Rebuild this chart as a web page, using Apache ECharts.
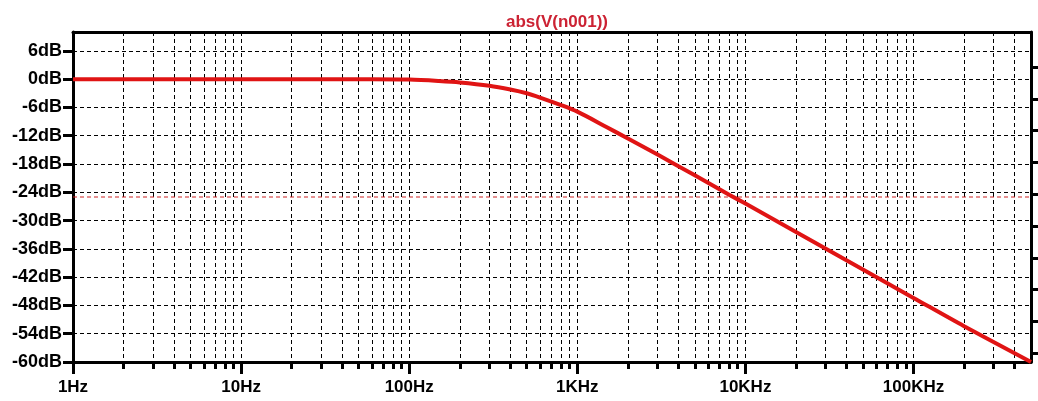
<!DOCTYPE html>
<html>
<head>
<meta charset="utf-8">
<script src="https://cdn.jsdelivr.net/npm/echarts@6/dist/echarts.min.js"></script>
<style>
  html, body { margin: 0; padding: 0; background: #fff; }
  #chart { width: 1038px; height: 401px; }
</style>
</head>
<body>
<div id="chart"></div>
<script>
// values
const freqs = [1, 10, 60, 100, 150, 200, 300, 400, 500, 600, 800, 1000, 1500, 2000, 3000, 5000, 8000, 10000, 20000, 50000, 100000, 200000, 500000]
const gainDb = [0, 0, 0, -0.1, -0.4, -0.7, -1.4, -2.2, -3.0, -3.9, -5.5, -6.9, -10.2, -12.6, -16.0, -20.4, -24.5, -26.4, -32.4, -40.4, -46.4, -52.4, -60.0]
const cursorFreqs = [1, 500000]
const cursorDb = [-25, -25]

// tick labels
const decades = [1, 10, 100, 1000, 10000, 100000]
const decadeLabels = ['1Hz', '10Hz', '100Hz', '1KHz', '10KHz', '100KHz']
const minorSteps = [2, 3, 4, 5, 6, 7, 8, 9]
const yTicks = [-60, -54, -48, -42, -36, -30, -24, -18, -12, -6, 0, 6]
// unlabelled right-hand scale, 0 at the bottom edge
const rightTicks = [62.5, 55.8, 49.1, 42.3, 35.6, 28.9, 22.1, 15.4, 8.6, 1.9]

let allFreqTicks = []
decades.forEach(d => {
  allFreqTicks.push(d)
  minorSteps.forEach(s => { if (d * s < 500000) allFreqTicks.push(d * s) })
})

const seriesData = freqs.map((f, i) => [f, gainDb[i]])
const cursorData = cursorFreqs.map((f, i) => [f, cursorDb[i]])

const chart = echarts.init(document.getElementById('chart'))
chart.setOption({
  animation: false,
  title: {
    text: 'abs(V(n001))',
    left: 552,
    top: 9,
    textAlign: 'center',
    textStyle: { fontFamily: 'Liberation Sans', fontWeight: 'bold', fontSize: 17, color: '#cc2233' }
  },
  grid: { left: 73, right: 7, top: 32, bottom: 39 },
  xAxis: [
    {
      type: 'log',
      min: 1,
      max: 500000,
      position: 'bottom',
      axisLine: { show: true, onZero: true, onZeroAxisIndex: 1, lineStyle: { color: '#000', width: 3 } },
      axisTick: { show: true, customValues: allFreqTicks, length: 7, lineStyle: { color: '#000', width: 3 } },
      axisLabel: { show: false },
      splitLine: { show: true, lineStyle: { color: '#000', width: 1, type: [4, 3] } }
    },
    {
      type: 'log',
      min: 1,
      max: 500000,
      position: 'bottom',
      axisLine: { show: false, onZero: true, onZeroAxisIndex: 1 },
      axisTick: { show: true, customValues: decades, length: 12, lineStyle: { color: '#000', width: 3 } },
      axisLabel: { show: false },
      splitLine: { show: false }
    },
    {
      type: 'log',
      min: 1,
      max: 500000,
      position: 'bottom',
      axisLine: { show: false, onZero: false },
      axisTick: { show: false },
      axisLabel: {
        customValues: decades,
        margin: 17,
        fontFamily: 'Liberation Sans',
        fontWeight: 'bold',
        fontSize: 17,
        color: '#000',
        formatter: v => decadeLabels[decades.indexOf(v)]
      },
      splitLine: { show: false }
    },
    {
      type: 'log',
      min: 1,
      max: 500000,
      position: 'top',
      axisLine: { show: true, onZero: false, lineStyle: { color: '#000', width: 3 } },
      axisTick: { show: false },
      axisLabel: { show: false },
      splitLine: { show: false }
    }
  ],
  yAxis: [
    {
      type: 'value',
      min: -60,
      max: 10,
      position: 'left',
      axisLine: { show: true, onZero: false, lineStyle: { color: '#000', width: 3 } },
      axisTick: { show: true, customValues: yTicks, length: 10, lineStyle: { color: '#000', width: 3 } },
      axisLabel: {
        customValues: yTicks,
        margin: 11,
        fontFamily: 'Liberation Sans',
        fontWeight: 'bold',
        fontSize: 18,
        color: '#000',
        formatter: v => v + 'dB'
      },
      splitLine: { show: true, lineStyle: { color: '#000', width: 1, type: [4, 3] } }
    },
    {
      type: 'value',
      min: 0,
      max: 70,
      position: 'right',
      axisLine: { show: true, onZero: false, lineStyle: { color: '#000', width: 3 } },
      axisTick: { show: true, customValues: rightTicks, length: 7, lineStyle: { color: '#000', width: 3 } },
      axisLabel: { show: false },
      splitLine: { show: false }
    }
  ],
  series: [
    {
      name: 'cursor',
      type: 'line',
      data: cursorData,
      showSymbol: false,
      silent: true,
      lineStyle: { color: '#cc2222', width: 1, type: [4, 3] }
    },
    {
      name: 'abs(V(n001))',
      type: 'line',
      data: seriesData,
      smooth: 0.3,
      showSymbol: false,
      lineStyle: { color: '#e01414', width: 4 }
    }
  ]
})
</script>
</body>
</html>
